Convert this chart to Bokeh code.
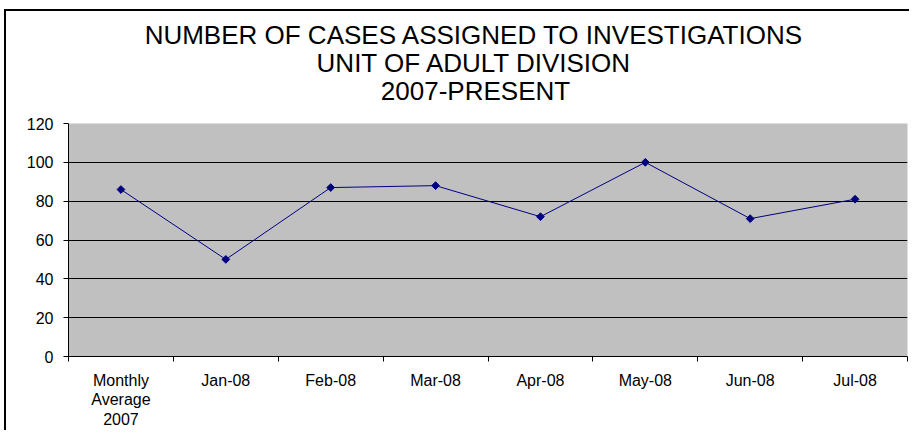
import math
from bokeh.plotting import figure
from bokeh.models import FixedTicker, Title, Range1d, ColumnDataSource
from bokeh.embed import file_html
from bokeh.resources import INLINE

# ---- data ----
categories = ["Monthly\nAverage\n2007", "Jan-08", "Feb-08", "Mar-08", "Apr-08",
              "May-08", "Jun-08", "Jul-08"]
cases = [86, 50, 87, 88, 72, 100, 71, 81]
y_ticks = [0, 20, 40, 60, 80, 100, 120]
title_lines = ["NUMBER OF CASES ASSIGNED TO INVESTIGATIONS",
               "UNIT OF ADULT DIVISION",
               "2007-PRESENT"]

FONT = "Liberation Sans"
TITLE_PX = 26
FRAME_LEFT = 68
TITLE_CENTER = 475

# Arial / Liberation Sans advance widths (1/1000 em) for centring the title lines
_W = dict(A=667, B=667, C=722, D=722, E=667, F=611, G=778, H=722, I=278, J=500,
          K=667, L=556, M=833, N=722, O=778, P=667, Q=778, R=722, S=667, T=611,
          U=722, V=667, W=944, X=667, Y=667, Z=611)
_W.update({d: 556 for d in "0123456789"})
_W.update({"-": 333, " ": 278})


def text_width(s, px):
    return sum(_W.get(ch, 600) for ch in s) * px / 1000.0


n = len(categories)
centers = [i + 0.5 for i in range(n)]
bounds = list(range(n + 1))

src = ColumnDataSource(dict(x=centers, y=cases))

p = figure(width=909, height=430,
           x_range=Range1d(0, n), y_range=Range1d(y_ticks[0], y_ticks[-1]),
           output_backend="svg", toolbar_location=None,
           min_border_left=FRAME_LEFT, min_border_right=2,
           min_border_top=123, min_border_bottom=70,
           background_fill_color="#C0C0C0", border_fill_color=None,
           outline_line_color=None)

# outer chart-area border (left and top edges visible)
p.styles = {
    "background": ("linear-gradient(#000, #000) 4px 9px / 2px 100% no-repeat, "
                   "linear-gradient(#000, #000) 4px 9px / 100% 2px no-repeat, #fff"),
}

# spacer between plot area and title block
p.add_layout(Title(text=" ", text_font_size="10px", standoff=5.5), "above")
# title: three centred lines (first added sits closest to the plot)
for line in reversed(title_lines):
    off = TITLE_CENTER - FRAME_LEFT - text_width(line, TITLE_PX) / 2
    t = Title(text=line, align="left", offset=off, text_font=FONT,
              text_font_size=f"{TITLE_PX}px", text_font_style="normal",
              text_color="black", standoff=-3.8)
    p.add_layout(t, "above")

# y axis
p.yaxis.ticker = FixedTicker(ticks=y_ticks)
p.yaxis.major_tick_in = 0
p.yaxis.major_tick_out = 5
p.yaxis.minor_tick_line_color = None
p.yaxis.axis_line_color = "black"
p.yaxis.major_tick_line_color = "black"
p.yaxis.major_label_text_font = FONT
p.yaxis.major_label_text_font_size = "16px"
p.yaxis.major_label_text_color = "black"
p.yaxis.major_label_standoff = 10

p.ygrid.ticker = FixedTicker(ticks=y_ticks)
p.ygrid.grid_line_color = "black"
p.ygrid.grid_line_width = 1
p.xgrid.visible = False

# x axis: labels at category centres, tick marks at category boundaries
p.xaxis.ticker = FixedTicker(ticks=centers, minor_ticks=bounds)
p.xaxis.major_label_overrides = {c: lab for c, lab in zip(centers, categories)}
p.xaxis.major_tick_line_color = None
p.xaxis.major_tick_in = 0
p.xaxis.major_tick_out = 5
p.xaxis.minor_tick_in = 0
p.xaxis.minor_tick_out = 5
p.xaxis.minor_tick_line_color = "black"
p.xaxis.axis_line_color = "black"
p.xaxis.major_label_text_font = FONT
p.xaxis.major_label_text_font_size = "16px"
p.xaxis.major_label_text_color = "black"
p.xaxis.major_label_standoff = 10
p.xaxis.major_label_text_line_height = 1.15

p.line("x", "y", source=src, line_color="#000080", line_width=1)
p.scatter("x", "y", source=src, marker="square", size=5.5, angle=math.pi / 4,
          fill_color="#000080", line_color="#000080")

open("out.html", "w").write(file_html(p, INLINE))
